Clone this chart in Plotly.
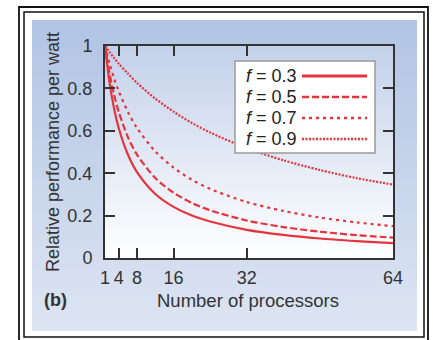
import base64
import plotly.graph_objects as go

# ---- data ----
processors = [1, 2, 3, 4, 6, 8, 12, 16, 20, 24, 32, 40, 48, 56, 64]
perf_f03 = [1.0, 0.826, 0.704, 0.613, 0.488, 0.405, 0.302, 0.241, 0.200, 0.172, 0.133, 0.109, 0.092, 0.080, 0.070]
perf_f05 = [1.0, 0.870, 0.769, 0.690, 0.571, 0.488, 0.377, 0.308, 0.260, 0.225, 0.177, 0.146, 0.124, 0.108, 0.096]
perf_f07 = [1.0, 0.917, 0.847, 0.787, 0.690, 0.613, 0.503, 0.426, 0.369, 0.326, 0.264, 0.222, 0.191, 0.168, 0.150]
perf_f09 = [1.0, 0.971, 0.943, 0.917, 0.870, 0.826, 0.752, 0.690, 0.637, 0.592, 0.518, 0.461, 0.415, 0.377, 0.346]
series_names = ["0.3", "0.5", "0.7", "0.9"]
x_ticks = [1, 4, 8, 16, 32, 64]
y_ticks = [0, 0.2, 0.4, 0.6, 0.8, 1]
y_tick_text = ["0", "0.2", "0.4", "0.6", "0.8", "1"]

# ---- layout geometry (pixels) ----
W, H = 433, 340
L, R, T, B = 105, 393, 46, 258  # plot area edges


def px(X):
    return (X - L) / (R - L)


def py(Y):
    return (B - Y) / (B - T)


RED = "#e4343e"
AX = "#333333"
FONT = "Liberation Sans Narrow, Liberation Sans, Arial, sans-serif"
dashes = ["solid", "7px,3px", "3px,4px", "2px,1.5px"]
series = [perf_f03, perf_f05, perf_f07, perf_f09]


def grad_svg(top, bottom):
    svg = (
        '<svg xmlns="http://www.w3.org/2000/svg" width="100" height="100" preserveAspectRatio="none">'
        '<defs><linearGradient id="g" x1="0" y1="0" x2="0" y2="1">'
        f'<stop offset="0" stop-color="{top}"/><stop offset="1" stop-color="{bottom}"/>'
        '</linearGradient></defs><rect width="100" height="100" fill="url(#g)"/></svg>'
    )
    return "data:image/svg+xml;base64," + base64.b64encode(svg.encode()).decode()


fig = go.Figure()
for name, vals, dash in zip(series_names, series, dashes):
    fig.add_trace(go.Scatter(
        x=processors, y=vals, mode="lines", name=f"f = {name}",
        line=dict(color=RED, width=2.2, dash=dash, shape="spline", smoothing=0.8),
        showlegend=False, hoverinfo="skip",
    ))

images = [
    dict(source=grad_svg("#b1c4e4", "#dde5f2"), xref="paper", yref="paper",
         x=px(32), y=py(20), sizex=px(417) - px(32), sizey=py(20) - py(331),
         xanchor="left", yanchor="top", sizing="stretch", layer="below"),
    dict(source=grad_svg("#c3d1ea", "#ffffff"), xref="paper", yref="paper",
         x=0, y=1, sizex=1, sizey=1,
         xanchor="left", yanchor="top", sizing="stretch", layer="below"),
]

shapes = [
    dict(type="rect", xref="paper", yref="paper", x0=px(19), x1=px(428), y0=py(345), y1=py(7),
         line=dict(color="#111111", width=1.8), layer="below"),
    dict(type="rect", xref="paper", yref="paper", x0=px(24), x1=px(424), y0=py(337), y1=py(12),
         line=dict(color="#111111", width=1.5), layer="below"),
    # legend box
    dict(type="rect", xref="paper", yref="paper", x0=px(235), x1=px(375), y0=py(153), y1=py(61),
         line=dict(color="#9a9a9a", width=1.5), fillcolor="white", layer="above"),
]

annotations = []
rows = [76, 97, 118, 139]
for name, dash, Y in zip(series_names, dashes, rows):
    annotations.append(dict(
        xref="paper", yref="paper", x=px(244), y=py(Y), xanchor="left", yanchor="middle",
        text=f"<i>f</i> = {name}", showarrow=False,
        font=dict(family=FONT, size=18, color="#222222"),
    ))
    shapes.append(dict(type="line", xref="paper", yref="paper", x0=px(302), x1=px(367),
                       y0=py(Y), y1=py(Y), line=dict(color=RED, width=3 if dash == "solid" else 2.6, dash=dash),
                       layer="above"))

annotations += [
    dict(xref="paper", yref="paper", x=px(53), y=py(152), text="Relative performance per watt",
         textangle=-90, showarrow=False, xanchor="center", yanchor="middle",
         font=dict(family=FONT, size=18, color="#333333")),
    dict(xref="paper", yref="paper", x=px(248), y=py(300), text="Number of processors",
         showarrow=False, xanchor="center", yanchor="middle",
         font=dict(family=FONT, size=18.5, color="#333333")),
    dict(xref="paper", yref="paper", x=px(55), y=py(300), text="<b>(b)</b>",
         showarrow=False, xanchor="center", yanchor="middle",
         font=dict(family=FONT, size=18, color="#333333")),
]

axis_common = dict(showline=True, linecolor=AX, linewidth=2, mirror="ticks",
                   ticks="inside", ticklen=10, tickwidth=2, tickcolor=AX,
                   showgrid=False, zeroline=False,
                   tickfont=dict(family=FONT, size=18, color="#333333"))

fig.update_layout(
    width=W, height=H,
    margin=dict(l=L, r=W - R, t=T, b=H - B, pad=0),
    paper_bgcolor="white", plot_bgcolor="rgba(0,0,0,0)",
    xaxis=dict(range=[1, 64], tickmode="array", tickvals=x_ticks,
               ticktext=[str(v) for v in x_ticks], ticklabelstandoff=2, **axis_common),
    yaxis=dict(range=[0, 1], tickmode="array", tickvals=y_ticks, ticktext=y_tick_text,
               ticklabelstandoff=7, **axis_common),
    images=images, shapes=shapes, annotations=annotations,
    showlegend=False,
)

fig.write_html("out.html")
